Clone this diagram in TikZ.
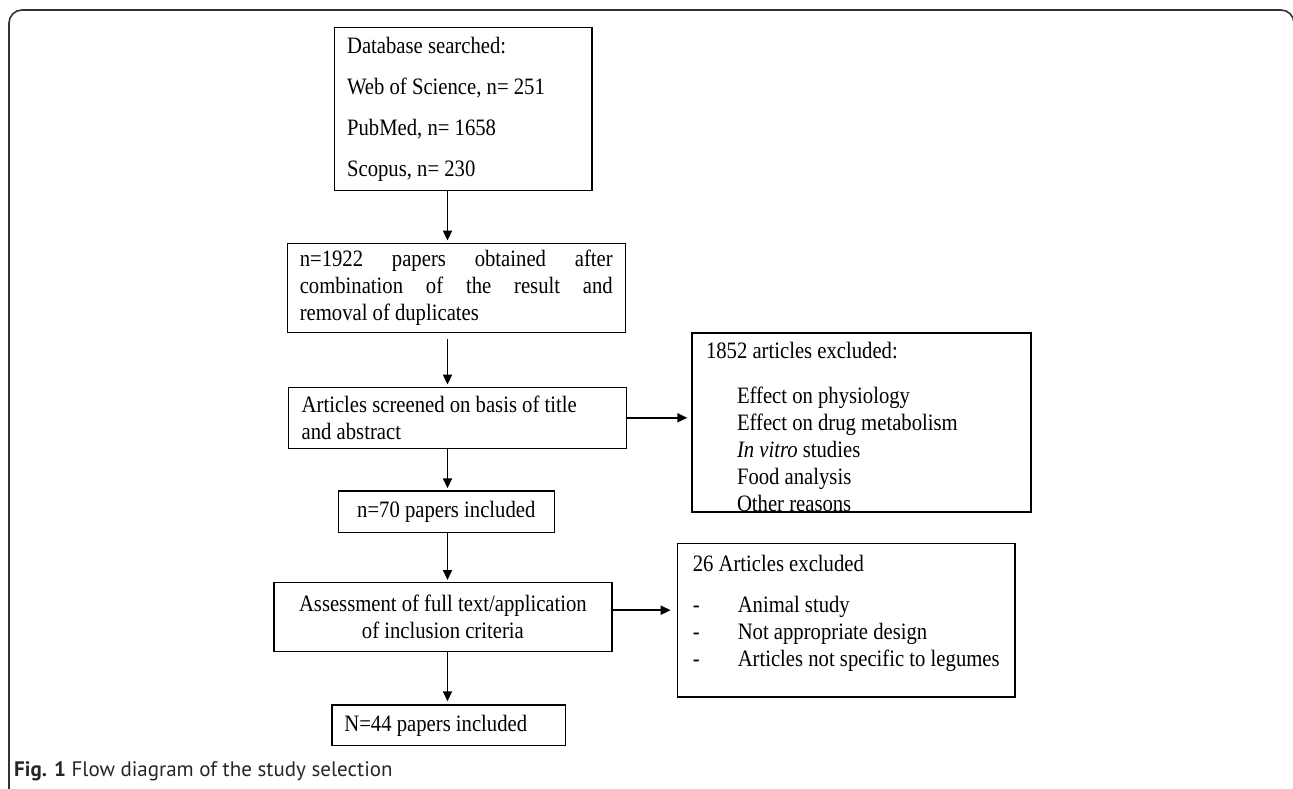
\documentclass[tikz,border=0pt]{standalone}
\usepackage{fontspec}
\setmainfont[FakeStretch=0.88]{Liberation Serif}
\newfontfamily\captionfont{PT Sans}
\usepackage{tikz}
\usetikzlibrary{arrows.meta, positioning, calc}

\begin{document}
\begin{tikzpicture}[x=1pt, y=-1pt, >={Triangle[length=10pt, width=9pt]},
    font=\fontsize{23.5}{27}\selectfont,
    stage/.style={draw, line width=1.4pt, inner ysep=0pt},
    flow/.style={->, line width=1.7pt, shorten >=2pt}]
\useasboundingbox (0,0) rectangle (1293,789);
\clip (0,0) rectangle (1293,789);

% Outer frame
\draw[black!80, line width=1.6pt, rounded corners=13pt] (9,800) -- (9,10) -- (1294,10) -- (1294,800);

% Main column
\node[stage, minimum height=162.6pt, text width=232.4pt, inner xsep=12.5pt, align=flush left,
      font=\fontsize{23.5}{41}\selectfont] (db) at (463.3,109)
    {Database searched:\\ Web of Science, n= 251\\ PubMed, n= 1658\\ Scopus, n= 230};
\node[stage, minimum height=89pt, text width=313pt, inner xsep=12.5pt, align=justify] (merged) at (456.25,287.8)
    {n=1922 papers obtained after\linebreak combination of the result and\linebreak removal of duplicates};
\node[stage, minimum height=61pt, text width=311.6pt, inner xsep=13.4pt, align=flush left] (screened) at (457.5,417.8)
    {Articles screened on basis of title\\ and abstract};
\node[stage, minimum width=216pt, minimum height=41.7pt] (incl70) at (446.3,511.85) {n=70 papers included};
\node[stage, minimum height=69pt, text width=312pt, inner xsep=13.1pt, align=flush center] (assess) at (442.9,617.2)
    {Assessment of full text/application\\ of inclusion criteria};
\node[stage, minimum height=40.7pt, text width=208.4pt, inner xsep=12.6pt, align=flush left] (incl44) at (448.6,725.35)
    {N=44 papers included};

% Exclusions
\node[stage, minimum height=179pt, text width=311pt, inner xsep=14pt, align=flush left] (excl1) at (861.5,422.5)
    {\mbox{}\\[-2pt]1852 articles excluded:\\[17.5pt]
     \hspace*{31pt}Effect on physiology\\
     \hspace*{31pt}Effect on drug metabolism\\
     \hspace*{31pt}\textit{In vitro} studies\\
     \hspace*{31pt}Food analysis\\
     \hspace*{31pt}Other reasons};
\node[stage, minimum width=337.6pt, minimum height=153.7pt, align=left] (excl2) at (846.2,620.15)
    {26 Articles excluded\\[14pt]
     \makebox[45pt][l]{-}Animal study\\
     \makebox[45pt][l]{-}Not appropriate design\\
     \makebox[45pt][l]{-}Articles not specific to legumes\\[-8pt] \mbox{}};

% Arrows
\coordinate (spine) at (447.5,0);
\draw[flow] (db.south -| spine) -- (merged.north -| spine);
\draw[flow, shorten <=6pt] (merged.south -| spine) -- (screened.north -| spine);
\draw[flow] (screened.south -| spine) -- (incl70.north -| spine);
\draw[flow] (incl70.south -| spine) -- (assess.north -| spine);
\draw[flow, shorten >=3pt] (assess.south -| spine) -- (incl44.north -| spine);
\draw[flow, shorten >=4pt] (screened.east) -- (screened.east -| excl1.west);
\draw[flow, shorten >=6pt] ($(assess.east)+(0,-7)$) -- ($(assess.east -| excl2.west)+(0,-7)$);

% Caption
\node[anchor=west, inner sep=0pt, text=black!85, font=\captionfont\fontsize{21}{24}\selectfont] (caption) at (14,771.7)
    {\textbf{Fig. 1} Flow diagram of the study selection};
\end{tikzpicture}
\end{document}
